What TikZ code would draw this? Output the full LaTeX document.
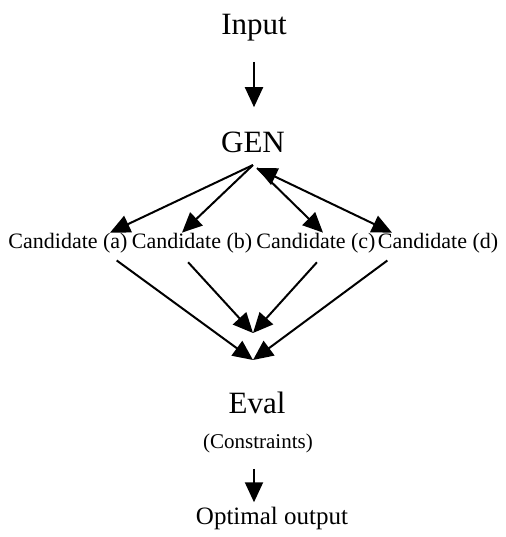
\documentclass[tikz,border=0pt]{standalone}
\usepackage{fontspec}
\setmainfont{Liberation Serif}
\usepackage{tikz}
\usetikzlibrary{arrows.meta, positioning}

\begin{document}
\begin{tikzpicture}[
  x=0.5pt, y=-0.5pt,
  big/.style={font=\fontsize{15.5}{18}\selectfont, inner sep=0pt},
  cand/.style={font=\fontsize{11}{14}\selectfont, inner sep=0pt},
  small/.style={font=\fontsize{10.5}{13}\selectfont, inner sep=0pt},
  outp/.style={font=\fontsize{12.5}{15}\selectfont, inner sep=0pt},
  rel/.style={-{Triangle[length=10pt, width=9pt]}, line width=1pt},
  both/.style={{Triangle[length=10pt, width=9pt]}-{Triangle[length=10pt, width=9pt]}, line width=1pt},
]
  \useasboundingbox (0,0) rectangle (505,537);

  \node[big]  (inp)  at (254,28)  {Input};
  \node[big]  (gen)  at (253,142) {GEN};
  \node[cand] (ca)   at (68,243)  {Candidate (a)};
  \node[cand] (cb)   at (192,243) {Candidate (b)};
  \node[cand] (cc)   at (316,243) {Candidate (c)};
  \node[cand] (cd)   at (438,243) {Candidate (d)};
  \node[big]  (eval) at (257,403) {Eval};
  \node[small] (cons) at (258,443) {(Constraints)};
  \node[outp] (opt)  at (272,518) {Optimal output};

  \coordinate (apex)  at (253,165);
  \coordinate (apexr) at (257,168);
  \coordinate (hi)    at (253,333);
  \coordinate (lo)    at (253,360);

  \draw[rel, shorten <=10pt, shorten >=12pt] (inp.south) -- (inp.south |- gen.north);
  \draw[rel] (apex)  -- ([xshift=21pt]ca.north);
  \draw[rel] (apex)  -- ([xshift=-5pt]cb.north);
  \draw[rel] (apexr) -- ([xshift=3.5pt]cc.north);
  \draw[both] (apexr) -- ([xshift=-23pt]cd.north);

  \draw[rel, shorten <=6pt] ([xshift=19.5pt]ca.south) -- (lo);
  \draw[rel, shorten <=6pt] ([xshift=-6pt]cb.south)    -- (hi);
  \draw[rel, shorten <=6pt] ([xshift=4.5pt]cc.south)   -- (hi);
  \draw[rel, shorten <=6pt] ([xshift=-20.5pt]cd.south) -- (lo);

  \draw[rel, shorten <=8pt, shorten >=2pt] ([xshift=-2pt]cons.south) -- ([xshift=-2pt]cons.south |- opt.north);
\end{tikzpicture}
\end{document}
